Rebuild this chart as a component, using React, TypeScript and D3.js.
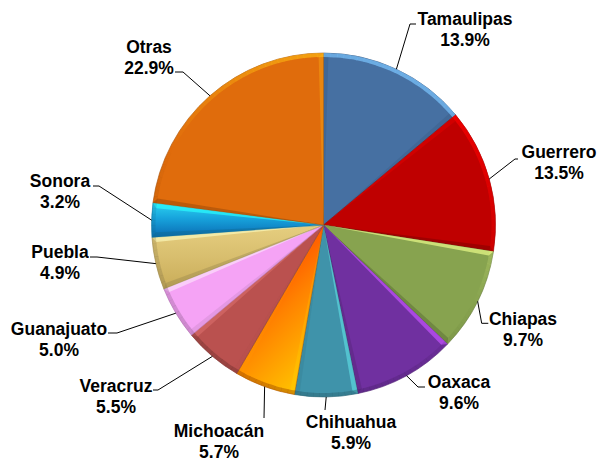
import React from 'react';
import * as d3 from 'd3';

const categories = ['Tamaulipas', 'Guerrero', 'Chiapas', 'Oaxaca', 'Chihuahua', 'Michoacán', 'Veracruz', 'Guanajuato', 'Puebla', 'Sonora', 'Otras'];
const values = [13.9, 13.5, 9.7, 9.6, 5.9, 5.7, 5.5, 5.0, 4.9, 3.2, 22.9];
const colors = ['#4670A2', '#BF0000', '#87A34F', '#7030A0', '#3F93AA', '#FF8000', '#BA514F', '#F5A3F5', '#D8BE6E', '#18A2DA', '#E06C0C'];

// gradient fills (slice index -> stops)
const gradients: Record<number, { x2: number; y2: number; x1: number; y1: number; stops: [number, string][] }> = {
  5: { x1: 0.3, y1: 0, x2: 0.8, y2: 1, stops: [[0, '#FF2A00'], [0.5, '#FF8200'], [1, '#FFCC00']] },
  9: { x1: 0, y1: 0, x2: 0, y2: 1, stops: [[0, '#2BD3F0'], [0.45, '#17A3DC'], [1, '#0A6AB2']] },
  8: { x1: 0, y1: 0, x2: 0, y2: 1, stops: [[0, '#E6CE80'], [0.5, '#D8BE6E'], [1, '#C8AC58']] },
};

// label layout: centre x, first baseline y, leader elbow points
const labelX = [465, 559, 523, 459, 351, 219, 116, 59, 60, 60, 149];
const labelY = [25, 158, 324.5, 388, 428, 436.5, 392, 335, 258, 187, 53];
const leaderPts: [number, number][][] = [
  [[410, 24], [416, 24]],
  [[515, 159], [518, 159]],
  [[481.7, 323.3], [488.3, 323.3]],
  [[418, 387], [425, 387]],
  [[325, 410]],
  [[264, 418]],
  [[158, 390], [153, 390]],
  [[117, 333], [108, 333]],
  [[97, 257], [90, 257]],
  [[99, 186], [93, 186]],
  [[183, 72], [175, 72]],
];

const W = 600, H = 458, CX = 323.5, CY = 225, R = 172;
const LIGHT = (() => { const x = 0.45, y = -0.89; const l = Math.hypot(x, y); return [x / l, y / l]; })();

function shadeFill(nx: number, ny: number, base: string) {
  const s = nx * LIGHT[0] + ny * LIGHT[1];
  return s > 0
    ? { fill: d3.color(base)!.brighter(1.6).formatHex(), op: 0.7 * s }
    : { fill: d3.color(base)!.darker(1.2).formatHex(), op: 0.5 * -s };
}

export default function App() {
  const pie = d3.pie<number>().sort(null).value(d => d).startAngle(0).endAngle(2 * Math.PI);
  const arcs = pie(values);
  const arc = d3.arc<any>().innerRadius(0).outerRadius(R);
  const rim = d3.arc<any>().innerRadius(R - 4).outerRadius(R);
  const font = "'Liberation Sans', Arial, sans-serif";

  return (
    <svg width={W} height={H} style={{ position: 'absolute', left: 0, top: 0, background: '#fff' }}>
      <defs>
        {Object.entries(gradients).map(([k, g]) => (
          <linearGradient key={k} id={`grad${k}`} x1={g.x1} y1={g.y1} x2={g.x2} y2={g.y2}>
            {g.stops.map(([o, c], i) => <stop key={i} offset={o} stopColor={c} />)}
          </linearGradient>
        ))}
      </defs>
      <g transform={`translate(${CX},${CY})`}>
        {arcs.map((a, i) => (
          <path key={i} d={arc(a) || ''} fill={gradients[i] ? `url(#grad${i})` : colors[i]}
            stroke={d3.color(colors[i])!.darker(0.8).formatHex()} strokeWidth={0.6} />
        ))}
        {/* bevel: radial edges */}
        {arcs.map((a, i) => {
          const d = 5 / R;
          const s = a.startAngle, e = a.endAngle;
          const p = (ang: number, r: number) => `${r * Math.sin(ang)},${-r * Math.cos(ang)}`;
          const sh1 = shadeFill(-Math.cos(s), -Math.sin(s), colors[i]);
          const sh2 = shadeFill(Math.cos(e), Math.sin(e), colors[i]);
          return (
            <g key={i}>
              <polygon points={`0,0 ${p(s, R)} ${p(s + d, R - 4)}`} fill={sh1.fill} opacity={sh1.op} />
              <polygon points={`0,0 ${p(e, R)} ${p(e - d, R - 4)}`} fill={sh2.fill} opacity={sh2.op} />
            </g>
          );
        })}
        {/* bevel: outer rim */}
        {arcs.map((a, i) => {
          const n = Math.max(2, Math.ceil((a.endAngle - a.startAngle) / 0.04));
          const step = (a.endAngle - a.startAngle) / n;
          return d3.range(n).map(j => {
            const s0 = a.startAngle + j * step, s1 = s0 + step + 0.002;
            const m = s0 + step / 2;
            const sh = shadeFill(Math.sin(m), -Math.cos(m), colors[i]);
            return <path key={`${i}-${j}`} d={rim({ startAngle: s0, endAngle: Math.min(s1, a.endAngle) }) || ''} fill={sh.fill} opacity={sh.op} />;
          });
        })}
      </g>
      {/* leaders */}
      {arcs.map((a, i) => {
        const m = (a.startAngle + a.endAngle) / 2;
        const start: [number, number] = [CX + R * Math.sin(m), CY - R * Math.cos(m)];
        const pts = [start, ...leaderPts[i]];
        return <path key={i} d={d3.line()(pts) || ''} fill="none" stroke="#000" strokeWidth={1} />;
      })}
      {/* labels */}
      {categories.map((c, i) => (
        <text key={i} x={labelX[i]} y={labelY[i]} textAnchor="middle" fontFamily={font} fontWeight="bold" fontSize={17.5} fill="#000">
          <tspan x={labelX[i]}>{c}</tspan>
          <tspan x={labelX[i]} dy={21}>{values[i].toFixed(1)}%</tspan>
        </text>
      ))}
    </svg>
  );
}
